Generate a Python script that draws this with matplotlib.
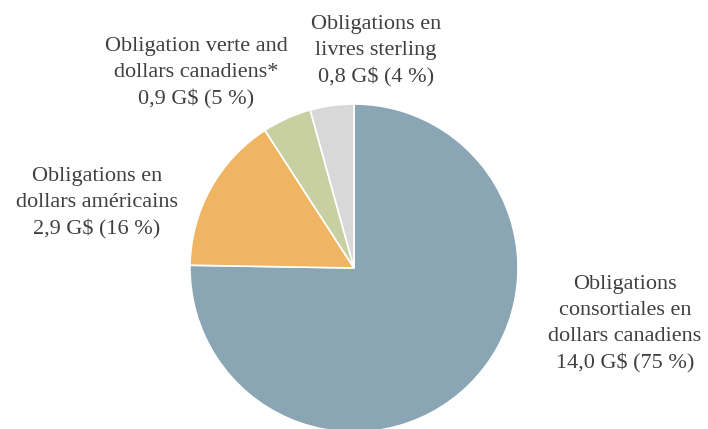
import matplotlib
matplotlib.use("Agg")
import matplotlib.pyplot as plt

# Émissions d'obligations (G$)
labels = [
    "Obligations\nconsortiales en\ndollars canadiens",
    "Obligations en\ndollars américains",
    "Obligation verte and\ndollars canadiens*",
    "Obligations en\nlivres sterling",
]
values = [14.0, 2.9, 0.9, 0.8]
percents = [75, 16, 5, 4]
colors = ["#8aa6b4", "#f0b563", "#c8cfa1", "#d8d8d8"]

# label anchors in pixel coords (x, y from top)
label_pos = [(625, 324), (97, 203), (196, 73), (376, 51)]

plt.rcParams['font.family'] = ['Liberation Serif', 'DejaVu Serif']

W, H = 708, 429
fig = plt.figure(figsize=(W / 100, H / 100), dpi=100)
ax = fig.add_axes([0, 0, 1, 1])
ax.axis('off')

ax.pie(values, colors=colors, startangle=90, counterclock=False,
       center=(354, H - 268), radius=164,
       wedgeprops=dict(edgecolor='white', linewidth=1.2))
ax.set_xlim(0, W)
ax.set_ylim(0, H)
ax.set_aspect('equal')

for lab, v, p, (x, y) in zip(labels, values, percents, label_pos):
    txt = lab + "\n" + f"{v:.1f}".replace(".", ",") + f" G$ ({p} %)"
    ax.text(x, H - y, txt, ha='center', va='center', fontsize=16,
            color='#404040', linespacing=1.5)

fig.savefig("out.png", dpi=100)
